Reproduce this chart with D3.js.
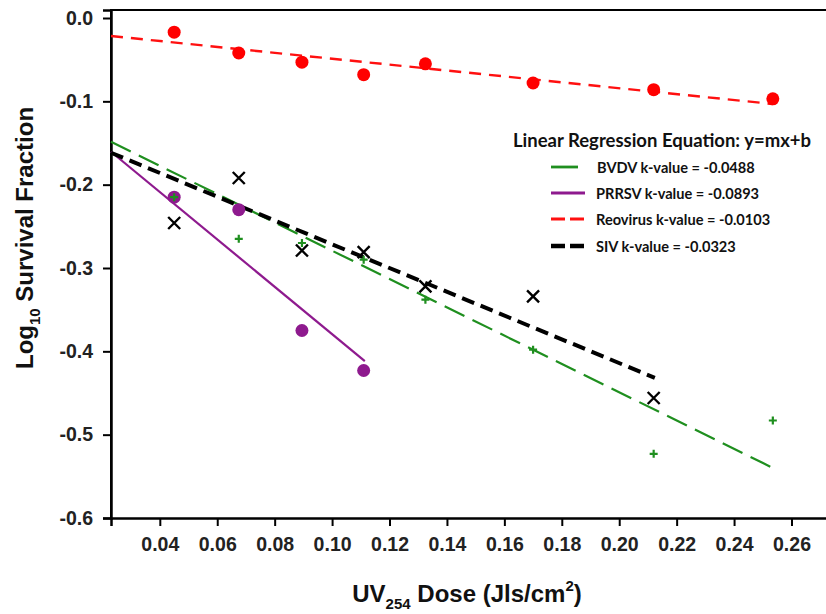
<!DOCTYPE html>
<html>
<head>
<meta charset="utf-8">
<script src="https://cdn.jsdelivr.net/npm/d3@7"></script>
<style>
  body { margin: 0; background: #fff; }
  #chart { width: 826px; height: 614px; overflow: hidden; }
</style>
</head>
<body>
<div id="chart"></div>
<script>
// UV254 dose points (J/s/cm2)
const doses = [0.045, 0.0675, 0.0895, 0.111, 0.1325, 0.17, 0.212, 0.2535];

// log10 survival fraction per virus
const reovirus = [-0.017, -0.042, -0.053, -0.068, -0.055, -0.078, -0.086, -0.097];
const prrsv = [-0.215, -0.230, -0.375, -0.423];
const bvdv = [-0.215, -0.265, -0.270, -0.290, -0.338, -0.398, -0.523, -0.483];
const siv = [-0.246, -0.192, -0.279, -0.281, -0.322, -0.334, -0.456];

// regression lines: [x, y] end points
const reovirusFit = [[0.023, -0.0216], [0.2535, -0.1032]];
const prrsvFit = [[0.023, -0.1605], [0.1114, -0.4118]];
const bvdvFit = [[0.023, -0.1485], [0.2539, -0.5406]];
const sivFit = [[0.023, -0.1617], [0.2124, -0.4318]];

const xTicks = [0.04, 0.06, 0.08, 0.10, 0.12, 0.14, 0.16, 0.18, 0.20, 0.22, 0.24, 0.26];
const yTicks = [0.0, -0.1, -0.2, -0.3, -0.4, -0.5, -0.6];

const legendTitle = "Linear Regression Equation: y=mx+b";
const legendItems = [
    { label: "BVDV k-value = -0.0488", color: "#1f8f1f", dash: "22,9", width: 2.2 },
    { label: "PRRSV k-value = -0.0893", color: "#8e1a8e", dash: null, width: 2.2 },
    { label: "Reovirus k-value = -0.0103", color: "#ff1010", dash: "12,8", width: 2.4 },
    { label: "SIV k-value = -0.0323", color: "#000", dash: "13,7", width: 4 }
];

const width = 826;
const height = 614;
const plotLeft = 111, plotTop = 10, plotBottom = 518;

const svg = d3.select("#chart")
    .append("svg")
    .attr("width", width)
    .attr("height", height);

const x = d3.scaleLinear().domain([0.023, 0.2755]).range([plotLeft, 836]);
const y = d3.scaleLinear().domain([-0.6, 0.0096]).range([plotBottom, plotTop]);

const axisFont = "'Liberation Sans', Arial, sans-serif";

// frame (the right edge falls outside the picture)
svg.append("path")
    .attr("d", `M${plotLeft},${plotBottom}V${plotTop}H${width + 10}`)
    .attr("fill", "none")
    .attr("stroke", "#000")
    .attr("stroke-width", 2);

// axes
const xAxis = svg.append("g")
    .attr("transform", `translate(0,${plotBottom})`)
    .call(d3.axisBottom(x).tickValues(xTicks).tickFormat(d => d.toFixed(2)).tickSizeOuter(0).tickSize(8).tickPadding(11));
xAxis.select(".domain").attr("stroke-width", 2.5);
xAxis.selectAll(".tick line").attr("stroke-width", 2);
xAxis.selectAll("text")
    .attr("font-family", axisFont)
    .attr("font-weight", "bold")
    .attr("font-size", "19.5px")
    .attr("fill", "#222");

const yAxis = svg.append("g")
    .attr("transform", `translate(${plotLeft},0)`)
    .call(d3.axisLeft(y).tickValues(yTicks).tickFormat(d => d.toFixed(1)).tickSizeOuter(0).tickSize(8).tickPadding(10));
yAxis.select(".domain").attr("stroke-width", 2.5);
yAxis.selectAll(".tick line").attr("stroke-width", 2);
yAxis.selectAll("text")
    .attr("font-family", axisFont)
    .attr("font-weight", "bold")
    .attr("font-size", "19.5px")
    .attr("fill", "#222");

// axis titles
const xTitle = svg.append("text")
    .attr("x", 467)
    .attr("y", 602)
    .attr("text-anchor", "middle")
    .attr("font-family", axisFont)
    .attr("font-weight", "bold")
    .attr("font-size", "24px")
    .attr("fill", "#111");
xTitle.append("tspan").text("UV");
xTitle.append("tspan").attr("font-size", "15px").attr("dy", 7).text("254");
xTitle.append("tspan").attr("dy", -7).text(" Dose (Jls/cm");
xTitle.append("tspan").attr("font-size", "15px").attr("dy", -11).text("2");
xTitle.append("tspan").attr("dy", 11).text(")");

const yTitle = svg.append("text")
    .attr("transform", "translate(33,238) rotate(-90)")
    .attr("text-anchor", "middle")
    .attr("font-family", axisFont)
    .attr("font-weight", "bold")
    .attr("font-size", "24px")
    .attr("fill", "#111");
yTitle.append("tspan").text("Log");
yTitle.append("tspan").attr("font-size", "15px").attr("dy", 7).text("10");
yTitle.append("tspan").attr("dy", -7).text(" Survival Fraction");

// regression lines
const line = d3.line().x(d => x(d[0])).y(d => y(d[1]));
const fits = [
    { pts: bvdvFit, style: legendItems[0] },
    { pts: prrsvFit, style: legendItems[1] },
    { pts: reovirusFit, style: legendItems[2] },
    { pts: sivFit, style: legendItems[3] }
];
svg.append("g").selectAll("path")
    .data(fits)
    .enter().append("path")
    .attr("d", d => line(d.pts))
    .attr("fill", "none")
    .attr("stroke", d => d.style.color)
    .attr("stroke-width", d => d.style.width)
    .attr("stroke-dasharray", d => d.style.dash);

// points
const pairs = (ys) => ys.map((v, i) => [doses[i], v]);

svg.append("g").selectAll("circle")
    .data(pairs(reovirus))
    .enter().append("circle")
    .attr("cx", d => x(d[0]))
    .attr("cy", d => y(d[1]))
    .attr("r", 6.5)
    .attr("fill", "#ff0000");

svg.append("g").selectAll("circle")
    .data(pairs(prrsv))
    .enter().append("circle")
    .attr("cx", d => x(d[0]))
    .attr("cy", d => y(d[1]))
    .attr("r", 6.5)
    .attr("fill", "#8e1a8e");

svg.append("g").selectAll("path")
    .data(pairs(bvdv))
    .enter().append("path")
    .attr("d", d => `M${x(d[0]) - 4},${y(d[1])}h8M${x(d[0])},${y(d[1]) - 4}v8`)
    .attr("stroke", "#1f8f1f")
    .attr("stroke-width", 2.2);

svg.append("g").selectAll("path")
    .data(pairs(siv))
    .enter().append("path")
    .attr("d", d => `M${x(d[0]) - 6},${y(d[1]) - 6}l12,12M${x(d[0]) - 6},${y(d[1]) + 6}l12,-12`)
    .attr("stroke", "#000")
    .attr("stroke-width", 2.4);

// legend
const legendFont = "Lato, 'Open Sans', sans-serif";
const legend = svg.append("g");
legend.append("text")
    .attr("x", 662)
    .attr("y", 147)
    .attr("text-anchor", "middle")
    .attr("font-family", legendFont)
    .attr("font-weight", "bold")
    .attr("font-size", "18.5px")
    .attr("fill", "#111")
    .text(legendTitle);

const rows = legend.selectAll("g.row")
    .data(legendItems)
    .enter().append("g")
    .attr("class", "row")
    .attr("transform", (d, i) => `translate(0,${[167, 193, 219, 246][i]})`);
rows.append("line")
    .attr("x1", 551)
    .attr("x2", (d, i) => i === 0 ? 578 : 585)
    .attr("stroke", d => d.color)
    .attr("stroke-width", d => d.width === 4 ? 4.5 : 2.8)
    .attr("stroke-dasharray", (d, i) => i >= 2 ? "14,5" : null);
rows.append("text")
    .attr("x", (d, i) => i === 0 ? 597 : 596)
    .attr("y", 5.5)
    .attr("font-family", legendFont)
    .attr("font-weight", "bold")
    .attr("font-size", "14.6px")
    .attr("fill", "#111")
    .text(d => d.label);
</script>
</body>
</html>
